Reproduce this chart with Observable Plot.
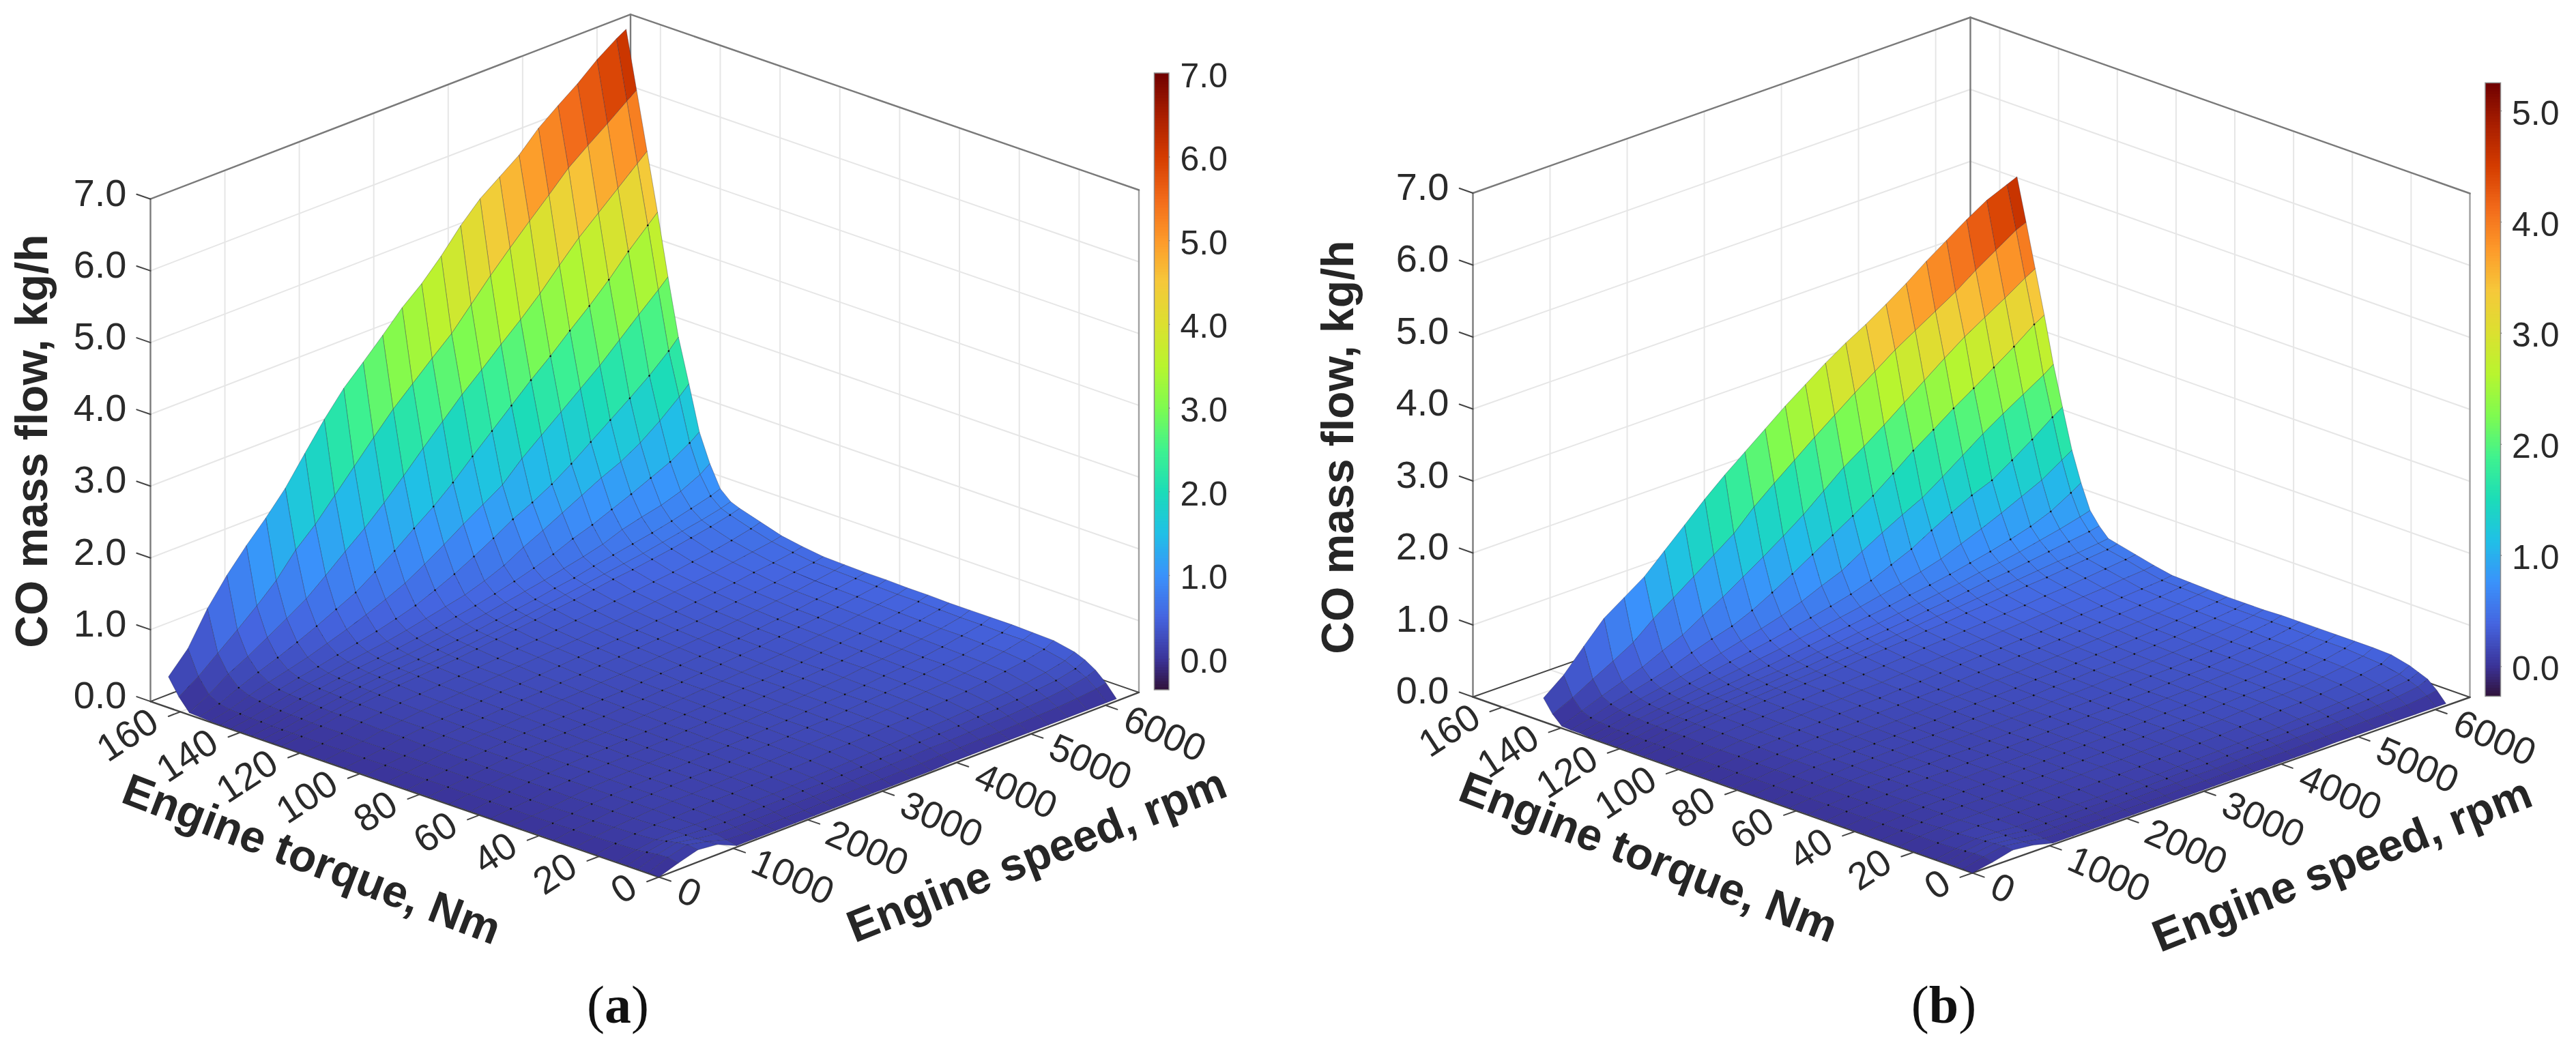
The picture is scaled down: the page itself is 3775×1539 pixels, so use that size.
<!DOCTYPE html>
<html><head><meta charset="utf-8">
<script src="https://cdn.jsdelivr.net/npm/d3@7"></script>
<script src="https://cdn.jsdelivr.net/npm/@observablehq/plot@0.6"></script>
<style>html,body{margin:0;padding:0;background:#fff}svg{display:block}</style>
</head><body><div id="chart"></div>
<script>
// ---------- data ----------
const speedTicks=[0,1000,2000,3000,4000,5000,6000];
const torqueTicks=[0,20,40,60,80,100,120,140,160];
const zTicks=[0,1,2,3,4,5,6,7];
const barTicksA=[0,1,2,3,4,5,6,7];
const barTicksB=[0,1,2,3,4,5];
const speedA=[0,262,523,785,1047,1308,1570,1832,2094,2355,2617,2879,3140,3402,3664,3926,4187,4449,4711,4972,5234,5496,5758,6019,6150];
const torqueA=[0,3.5,7,10.5,14,21,28,35,42,49,56,63,70,77,84,91,98,105,112,119,126,129,132.5,136,139.5,143,146.5,150,153.5,157,160.5,164];
// CO mass flow, kg/h x 100; one row per torque, one column per speed
const coA=[
[0,9,17,14,2,2,2,2,2,2,2,2,2,2,2,3,3,3,3,3,3,3,3,3,3],
[1,12,19,13,5,4,4,4,4,5,5,6,6,7,7,8,8,9,9,10,11,12,14,17,20],
[1,11,17,12,8,7,7,7,8,8,9,9,10,11,12,13,13,14,15,16,18,20,23,28,33],
[1,9,14,12,10,9,9,10,10,11,11,12,13,14,15,16,17,18,20,21,23,26,29,35,42],
[1,7,11,12,11,11,11,12,12,13,14,15,16,17,18,20,21,22,24,26,28,31,35,41,48],
[1,6,9,11,11,12,13,13,14,15,16,17,19,20,21,23,24,26,28,30,33,37,41,47,54],
[1,5,8,10,12,13,13,14,15,16,17,18,20,21,23,24,26,28,30,32,35,39,44,50,55],
[1,5,7,10,12,13,14,15,15,16,18,19,20,22,23,25,27,29,31,34,37,40,45,50,56],
[1,4,7,10,12,13,14,15,16,17,18,19,21,22,24,26,27,29,32,34,37,41,46,51,56],
[1,4,6,9,12,13,14,15,16,17,18,20,21,23,24,26,28,30,33,35,38,42,46,51,56],
[1,4,6,10,12,14,15,15,16,17,19,20,22,23,25,27,29,31,33,36,39,43,47,52,56],
[1,4,7,10,12,14,15,16,17,18,19,21,22,24,26,27,29,31,34,37,40,44,48,53,57],
[1,4,7,10,13,14,15,16,17,18,20,21,23,25,26,28,30,32,35,38,41,45,49,53,57],
[1,4,7,10,13,15,16,17,18,19,21,22,24,25,27,29,31,33,36,39,42,46,50,54,58],
[1,4,7,11,13,15,17,18,19,20,22,23,25,27,28,30,32,34,37,40,43,47,51,55,58],
[1,4,7,11,14,16,17,19,20,22,23,25,26,28,30,32,34,36,39,42,45,48,52,56,59],
[1,4,7,11,14,16,18,20,22,23,25,26,28,30,32,34,36,38,41,44,47,50,54,57,60],
[1,4,7,12,15,17,19,21,23,24,26,28,30,32,34,36,39,41,44,47,50,54,57,61,64],
[1,4,7,12,15,18,20,22,24,26,28,30,32,34,37,39,42,45,48,51,54,58,62,66,69],
[1,4,8,13,16,19,21,23,25,27,29,32,34,37,40,43,46,49,52,55,59,63,68,74,78],
[1,4,8,13,17,20,23,25,27,29,32,35,38,41,45,48,52,56,59,63,67,72,77,83,87],
[1,4,8,13,17,21,24,26,28,30,33,36,39,43,47,51,55,59,63,67,72,77,82,88,92],
[1,4,9,14,18,22,25,27,29,32,35,38,42,46,50,55,59,65,70,75,80,86,93,100,105],
[1,4,9,15,19,23,26,29,31,34,38,42,46,51,56,61,67,73,80,90,97,103,112,125,135],
[1,5,10,16,20,24,28,31,34,38,42,47,52,58,65,73,82,93,102,113,124,136,148,164,174],
[1,5,11,17,22,26,31,35,39,44,50,56,62,71,82,97,110,124,138,152,164,180,200,223,236],
[1,6,13,19,25,30,36,42,48,55,63,74,86,100,115,131,144,159,177,197,217,237,258,282,296],
[1,7,16,24,31,38,47,56,66,77,89,105,122,140,157,174,200,222,244,266,288,313,338,362,375],
[2,10,22,33,43,54,66,79,92,110,129,150,170,193,219,244,269,294,317,342,366,392,421,447,460],
[3,18,36,50,66,82,99,121,144,166,191,218,246,273,300,324,349,373,399,428,456,480,504,528,540],
[20,38,60,82,105,130,162,187,217,247,277,306,331,356,380,410,440,468,495,521,548,569,589,610,620],
[43,72,117,153,184,212,243,281,318,351,377,404,432,455,483,515,542,562,582,609,630,650,673,692,700]];
const speedB=[0,261,522,784,1045,1306,1567,1829,2090,2351,2612,2874,3135,3396,3657,3919,4180,4441,4702,4964,5225,5486,5747,6009,6140];
const torqueB=[0,3.1,6.2,9.3,12.4,18.6,24.8,31,37.3,43.5,49.7,55.9,62.1,68.3,74.5,80.8,87,93.2,99.4,105.6,111.8,114.9,118,121.1,124.2,127.3,130.5,133.6,136.7,139.8,142.9,146];
const coB=[
[0,5,12,9,2,2,2,2,2,2,2,2,2,2,2,2,2,2,3,3,3,3,3,3,3],
[1,8,13,9,4,3,3,3,4,4,4,5,5,5,6,6,6,7,7,8,9,10,11,14,17],
[1,8,12,9,5,5,5,5,6,6,7,7,8,8,9,10,10,11,12,13,14,16,18,22,28],
[1,7,11,9,6,6,6,7,7,8,8,9,10,10,11,12,13,14,15,16,18,20,23,27,33],
[1,6,10,9,7,7,7,8,8,9,10,10,11,12,13,14,15,16,18,19,21,23,26,31,38],
[1,5,8,9,8,8,9,9,10,11,11,12,13,14,15,16,18,19,21,22,24,27,31,36,44],
[1,5,7,8,8,9,9,10,11,12,13,13,14,15,17,18,19,21,23,24,26,29,33,38,45],
[1,4,6,8,9,9,10,11,11,12,13,14,15,16,18,19,20,22,24,25,27,30,34,40,45],
[1,4,6,8,9,10,10,11,12,13,14,15,16,17,18,20,21,23,24,26,28,31,35,40,45],
[1,4,6,8,9,10,11,12,12,13,14,15,16,18,19,20,22,23,25,27,29,32,36,40,45],
[1,4,6,8,10,11,11,12,13,14,15,16,17,18,19,21,22,24,26,27,30,33,36,41,45],
[1,4,6,9,10,11,12,13,13,14,15,16,18,19,20,21,23,25,26,28,30,33,37,41,45],
[1,4,6,9,10,11,12,13,14,15,16,17,18,20,21,22,24,25,27,29,31,34,37,41,44],
[1,4,7,9,11,12,13,14,14,15,17,18,19,20,22,23,25,26,28,30,32,35,38,41,44],
[1,4,7,10,11,12,13,14,15,16,18,19,20,21,23,24,26,28,29,31,33,36,39,42,44],
[1,4,7,10,12,13,14,15,16,17,19,20,21,23,24,26,27,29,31,33,35,37,40,43,45],
[1,4,7,10,12,14,15,16,18,19,20,21,23,25,26,28,29,31,33,35,37,39,41,44,46],
[1,4,8,11,13,15,16,18,19,20,22,23,25,27,29,30,32,33,35,37,39,41,43,45,47],
[1,4,8,11,13,15,17,19,20,22,23,25,27,29,31,33,35,37,39,41,43,45,48,50,52],
[1,4,8,12,14,16,18,20,22,23,25,27,29,32,34,36,38,40,42,45,47,50,53,56,58],
[1,4,9,12,15,17,19,21,23,25,27,30,32,34,37,39,42,44,47,50,52,55,58,61,64],
[1,4,9,12,15,18,20,22,24,26,29,31,34,37,40,43,45,48,51,54,57,60,62,65,67],
[1,4,9,13,16,19,21,23,26,28,31,34,37,40,43,47,50,54,58,61,65,69,73,77,80],
[1,5,10,13,17,20,22,25,27,30,34,37,41,44,48,52,56,60,65,69,74,80,86,93,97],
[1,5,10,14,18,21,24,27,30,34,38,42,46,50,54,59,63,68,74,80,87,95,106,122,131],
[1,5,11,15,19,23,27,31,35,39,44,48,53,58,64,70,77,85,96,107,119,132,145,163,172],
[1,6,12,17,22,26,31,36,41,46,52,58,64,71,80,92,104,120,135,149,160,178,197,218,227],
[2,7,14,20,25,31,37,44,51,58,66,76,88,99,116,132,147,161,180,200,220,238,255,272,282],
[2,9,18,25,32,40,50,59,67,79,94,110,127,144,161,179,200,222,241,261,279,298,317,338,346],
[3,14,25,35,45,58,70,87,103,121,139,158,178,201,224,243,263,284,305,326,346,363,380,398,406],
[15,28,44,59,75,98,117,137,157,177,204,227,249,271,292,313,333,353,370,387,404,424,442,460,466],
[33,55,85,114,133,152,178,204,230,254,276,298,320,340,360,378,394,412,431,452,471,490,507,519,525]];
// rows of the table that carry a measured-point dot
const dotRows=[3,5,7,8,10,11,13,14,16,17,19,20,22,24,26,28];
// colour map: position along the colour bar and colour there
const rampStops=[0,.05,.118,.186,.254,.321,.389,.457,.525,.593,.661,.728,.796,.864,.932,1];
const rampColors=["#30123b","#3b3499","#4565e0","#3a92fb","#20c0e6","#1cdcb8","#3ff28f","#7efb50","#b8f52f","#dce030","#f6c83a","#fd9a2a","#f26a1a","#d43c00","#a81e00","#6f0000"];

// ---------- layout of each panel ----------
const axS=6450, axT=170, axZ=7;
const panels=[
 {name:"(a)",speed:speedA,torque:torqueA,co:coA,ox:965,oy:1285,rx:1668.5,ry:1014.4,lx:220,ly:1027.6,zu:105.2,
  barX:[1691.5,1713],barY:[107,1011],barMin:-.37,barMax:7,barTicks:barTicksA,barFont:50,
  zLabel:[47,646],tLabel:[456,1260],sLabel:[1519,1254],tag:[905,1474]},
 {name:"(b)",speed:speedB,torque:torqueB,co:coB,ox:2890,oy:1279,rx:3619,ry:1021.5,lx:2158,ly:1021,zu:105.5,
  barX:[3642,3664.5],barY:[121.4,1020.5],barMin:-.27,barMax:5.25,barTicks:barTicksB,barFont:50,
  zLabel:[1961,655],tLabel:[2415,1257],sLabel:[3432,1268],tag:[2848,1474]}
];
const FONT="Liberation Sans, Arial, sans-serif";
const GRID="#e6e6e6", BOX="#7a7a7a", AXIS="#444";

const seg=[], cells=[], dots=[], rects=[], barFrame=[], zText=[], tText=[], sText=[], barText=[], titles=[], tags=[];
let cid=0, sid=0;
function line(a,b,stroke,w){sid++;seg.push({x:a[0],y:a[1],id:sid,stroke,w});seg.push({x:b[0],y:b[1],id:sid,stroke,w});}

for(const p of panels){
  const P=(s,t,z=0)=>[p.ox+(p.rx-p.ox)*s/axS+(p.lx-p.ox)*t/axT, p.oy+(p.ry-p.oy)*s/axS+(p.ly-p.oy)*t/axT-p.zu*z];
  const frac=v=>(v-p.barMin)/(p.barMax-p.barMin);
  // walls: grid
  for(const z of zTicks){
    line(P(0,axT,z),P(axS,axT,z),GRID,2);
    line(P(axS,axT,z),P(axS,0,z),GRID,2);
  }
  for(const s of speedTicks.slice(1)){ line(P(s,axT,0),P(s,axT,axZ),GRID,2); line(P(s,0,0),P(s,axT,0),GRID,2);}
  for(const t of torqueTicks.slice(1)){ line(P(axS,t,0),P(axS,t,axZ),GRID,2); line(P(0,t,0),P(axS,t,0),GRID,2);}
  // box
  line(P(0,axT,0),P(0,axT,axZ),BOX,2.4);
  line(P(axS,axT,0),P(axS,axT,axZ),BOX,2.4);
  line(P(axS,0,0),P(axS,0,axZ),"#a0a0a0",2.4);
  line(P(0,axT,axZ),P(axS,axT,axZ),BOX,2.4);
  line(P(axS,axT,axZ),P(axS,0,axZ),BOX,2.4);
  line(P(0,axT,0),P(axS,axT,0),AXIS,2);
  line(P(axS,0,0),P(axS,axT,0),AXIS,2);
  line(P(0,0,0),P(axS,0,0),AXIS,2.4);
  line(P(0,0,0),P(0,axT,0),AXIS,2.4);
  // ticks and tick labels
  for(const z of zTicks){
    const a=P(0,axT,z); line(a,P(0,axT+4.6,z),AXIS,2);
    zText.push({x:a[0]-35,y:a[1]-8,text:z.toFixed(1)});
  }
  for(const t of torqueTicks){
    const a=P(0,t,0); line(a,P(-160,t,0),AXIS,2);
    tText.push({x:a[0]-38,y:a[1]+9,text:String(t)});
  }
  for(const s of speedTicks){
    const a=P(s,0,0); line(a,P(s,-4,0),AXIS,2);
    sText.push({x:a[0]+30,y:a[1]+17,text:String(s)});
  }
  // surface: far cells first, each cell coloured from its low-speed, low-torque corner
  const S=p.speed,T=p.torque,C=p.co;
  for(let j=T.length-2;j>=0;j--) for(let i=S.length-2;i>=0;i--){
    const f=frac(C[j][i]/100); cid++;
    for(const [a,b] of [[i,j],[i+1,j],[i+1,j+1],[i,j+1],[i,j]]){
      const q=P(S[a],T[b],C[b][a]/100);
      cells.push({x:q[0],y:q[1],id:cid,f});
    }
  }
  for(const j of dotRows) for(let i=1;i<S.length-1;i++){
    const q=P(S[i],T[j],C[j][i]/100); dots.push({x:q[0],y:q[1]});
  }
  // colour bar
  const [b0,b1]=p.barY, by=v=>b1+(v-p.barMin)/(p.barMax-p.barMin)*(b0-b1);
  const n=220;
  for(let i=0;i<n;i++){
    rects.push({x1:p.barX[0],x2:p.barX[1],y1:b1+(b0-b1)*i/n,y2:b1+(b0-b1)*(i+1)/n+(i<n-1?-.8:0),f:(i+.5)/n});
  }
  barFrame.push({x1:p.barX[0],x2:p.barX[1],y1:b0,y2:b1});
  for(const v of p.barTicks){
    const y=by(v);
    if(v<p.barMax) line([p.barX[1]-6,y],[p.barX[1],y],"#333",1.6);
    barText.push({x:p.barX[1]+16,y:y+4,text:v.toFixed(1)});
  }
  // titles
  titles.push({x:p.zLabel[0],y:p.zLabel[1],text:"CO mass flow, kg/h",r:-90});
  titles.push({x:p.tLabel[0],y:p.tLabel[1],text:"Engine torque, Nm",r:21});
  titles.push({x:p.sLabel[0],y:p.sLabel[1],text:"Engine speed, rpm",r:-21.5});
  tags.push({x:p.tag[0],y:p.tag[1],text:p.name});
}

const chart=Plot.plot({
  width:3775,height:1539,margin:0,
  style:{background:"#fff"},
  x:{domain:[0,3775],range:[0,3775],axis:null},
  y:{domain:[0,1539],range:[0,1539],axis:null},
  color:{type:"linear",domain:rampStops,range:rampColors},
  marks:[
    Plot.line(seg,{x:"x",y:"y",z:"id",stroke:"stroke",strokeWidth:"w"}),
    Plot.line(cells,{x:"x",y:"y",z:"id",fill:"f",stroke:"#1c1c40",strokeOpacity:.34,strokeWidth:1,strokeLinejoin:"round"}),
    Plot.dot(dots,{x:"x",y:"y",r:1.3,fill:"#111",stroke:"none"}),
    Plot.rect(rects,{x1:"x1",x2:"x2",y1:"y1",y2:"y2",fill:"f",inset:0}),
    Plot.rect(barFrame,{x1:"x1",x2:"x2",y1:"y1",y2:"y2",fill:"none",stroke:"#8a8a8a",strokeWidth:1.5}),
    Plot.text(zText,{x:"x",y:"y",text:"text",textAnchor:"end",fontSize:56,fontFamily:FONT,fill:"#2a2a2a"}),
    Plot.text(barText,{x:"x",y:"y",text:"text",textAnchor:"start",fontSize:50,fontFamily:FONT,fill:"#2a2a2a"}),
    Plot.text(tText,{x:"x",y:"y",text:"text",textAnchor:"end",rotate:-33,fontSize:56,fontFamily:FONT,fill:"#2a2a2a"}),
    Plot.text(sText,{x:"x",y:"y",text:"text",textAnchor:"start",rotate:24,fontSize:56,fontFamily:FONT,fill:"#2a2a2a"}),
    ...[-90,21,-21.5].map(r=>Plot.text(titles.filter(d=>d.r===r),{x:"x",y:"y",text:"text",rotate:r,fontSize:66,fontWeight:"bold",fontFamily:FONT,fill:"#262626"})),
    Plot.text(tags,{x:"x",y:"y",text:"text",fontSize:78,fontFamily:"Liberation Serif, serif",fill:"#111",className:"tag"})
  ]
});
document.getElementById("chart").appendChild(chart);
// panel tags: the letter is bold, the brackets are not
d3.select(chart).selectAll(".tag text").each(function(){
  const s=this.textContent, g=d3.select(this); g.text("");
  g.append("tspan").text(s[0]); g.append("tspan").attr("font-weight","bold").text(s[1]); g.append("tspan").text(s[2]);
});
</script></body></html>
